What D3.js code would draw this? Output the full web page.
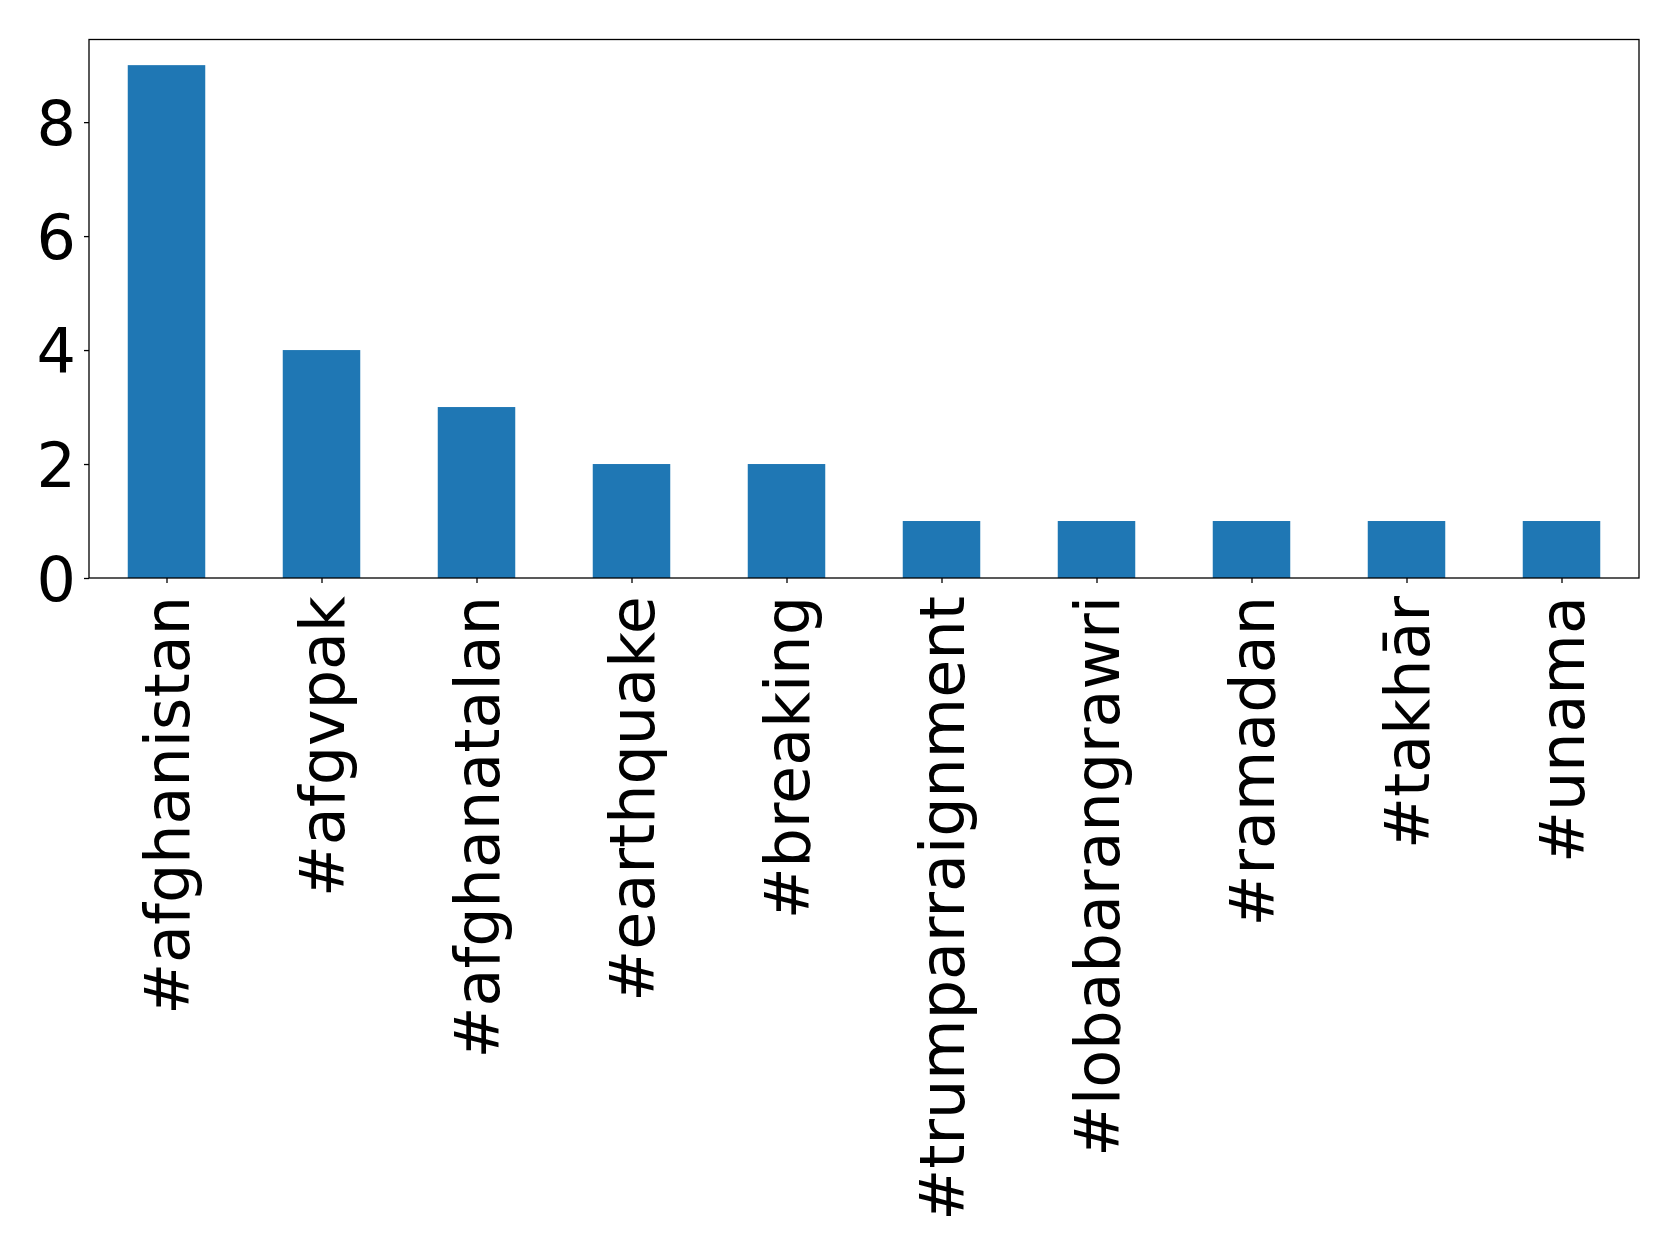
<!DOCTYPE html>
<html>
<head>
<meta charset="utf-8">
<script src="https://cdn.jsdelivr.net/npm/d3@7"></script>
<style>
  html, body { margin: 0; padding: 0; background: #fff; }
  svg { display: block; }
  text { font-family: "DejaVu Sans", sans-serif; fill: #000; }
</style>
</head>
<body>
<svg id="chart" width="1679" height="1257"></svg>
<script>
// Hashtag counts
const categories = ["#afghanistan", "#afgvpak", "#afghanatalan", "#earthquake", "#breaking",
  "#trumparraignment", "#lobabarangrawri", "#ramadan", "#takhār", "#unama"];
const counts = [9, 4, 3, 2, 2, 1, 1, 1, 1, 1];
const yTicks = [0, 2, 4, 6, 8];

const W = 1679, H = 1257;
const plot = { left: 89, right: 1639, top: 39.5, bottom: 578 };
const fontSize = 62;

const svg = d3.select("#chart");

// Bar positions: integer slots with half-width bars, padded by half a slot each side
const x = d3.scaleLinear().domain([-0.5, categories.length - 0.5]).range([plot.left, plot.right]);
const yMax = d3.max(counts) * 1.05;
const y = d3.scaleLinear().domain([0, yMax]).range([plot.bottom, plot.top]);
const barW = x(0.5) - x(0);

svg.append("g")
  .selectAll("rect")
  .data(counts)
  .join("rect")
  .attr("x", (d, i) => x(i) - barW / 2)
  .attr("y", d => y(d))
  .attr("width", barW)
  .attr("height", d => y(0) - y(d))
  .attr("fill", "#1f77b4");

// Frame
svg.append("rect")
  .attr("x", plot.left).attr("y", plot.top)
  .attr("width", plot.right - plot.left).attr("height", plot.bottom - plot.top)
  .attr("fill", "none").attr("stroke", "#000").attr("stroke-width", 1.3);

// Y axis
const yAxis = d3.axisLeft(y).tickValues(yTicks).tickFormat(d3.format("d")).tickSize(5).tickPadding(8);
const gy = svg.append("g").attr("transform", `translate(${plot.left},0)`).call(yAxis);
gy.select(".domain").remove();
gy.selectAll(".tick line").attr("stroke", "#000").attr("stroke-width", 1.3);
gy.selectAll(".tick text")
  .attr("font-size", fontSize)
  .attr("font-family", "DejaVu Sans, sans-serif")
  .attr("dy", "0.36em");

// X axis with vertical labels
const xAxis = d3.axisBottom(x).tickValues(d3.range(categories.length))
  .tickFormat(i => categories[i]).tickSize(5).tickPadding(0);
const gx = svg.append("g").attr("transform", `translate(0,${plot.bottom})`).call(xAxis);
gx.select(".domain").remove();
gx.selectAll(".tick line").attr("stroke", "#000").attr("stroke-width", 1.3);
gx.selectAll(".tick text")
  .attr("font-size", fontSize)
  .attr("font-family", "DejaVu Sans, sans-serif")
  .attr("text-anchor", "end")
  .attr("transform", "translate(0,18) rotate(-90)")
  .attr("x", 0)
  .attr("y", 0)
  .attr("dy", "0.36em");
</script>
</body>
</html>
